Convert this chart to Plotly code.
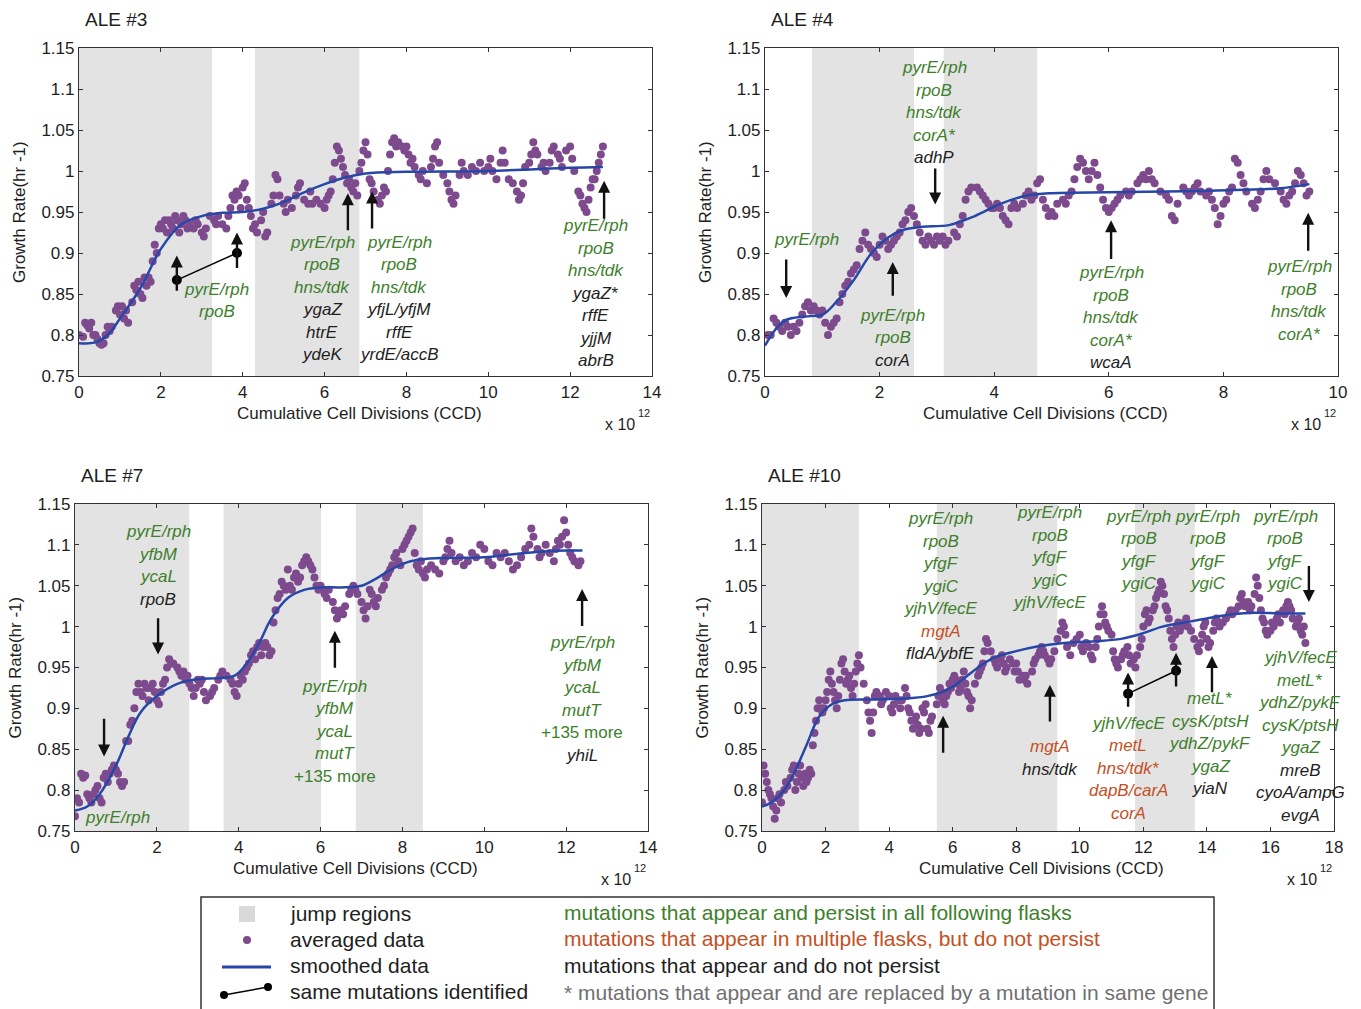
import plotly.graph_objects as go

FONT = "Liberation Sans, Arial, sans-serif"
GREEN = "#3e7f2c"
ORANGE = "#c5501f"
BLACK = "#1e1e1e"
GRAYTXT = "#707070"
PURPLE = "#7d4b8d"
BLUE = "#2747a8"
JUMP = "#e3e3e3"
COL = {"g": GREEN, "o": ORANGE, "k": BLACK}

# ---------------- tick labels ----------------
y_tickvals = [0.75, 0.8, 0.85, 0.9, 0.95, 1.0, 1.05, 1.1, 1.15]
y_ticktext = ["0.75", "0.8", "0.85", "0.9", "0.95", "1", "1.05", "1.1", "1.15"]
x_ticks_14 = [0, 2, 4, 6, 8, 10, 12, 14]
x_ticks_10 = [0, 2, 4, 6, 8, 10]
x_ticks_18 = [0, 2, 4, 6, 8, 10, 12, 14, 16, 18]

# ---------------- ALE #3 ----------------
ale3_x = [0.0, 0.1, 0.15, 0.2, 0.25, 0.3, 0.35, 0.4, 0.45, 0.5, 0.55, 0.6, 0.65, 0.7, 0.75, 0.8, 0.9, 0.95, 1.0, 1.05,
          1.1, 1.15, 1.2, 1.3, 1.35, 1.4, 1.45, 1.5, 1.55, 1.6, 1.65, 1.7, 1.75, 1.8, 1.85, 1.9, 1.95, 2.0, 2.05, 2.1,
          2.15, 2.2, 2.25, 2.3, 2.35, 2.4, 2.45, 2.5, 2.55, 2.6, 2.65, 2.7, 2.8, 2.85, 2.9, 3.0, 3.05, 3.1, 3.2, 3.3,
          3.35, 3.4, 3.5, 3.6, 3.65, 3.7, 3.75, 3.8, 3.85, 3.9, 3.95, 4.0, 4.05, 4.1, 4.15, 4.2, 4.25, 4.3, 4.35, 4.45,
          4.5, 4.55, 4.6, 4.7, 4.75, 4.8, 4.85, 4.9, 5.0, 5.05, 5.1, 5.2, 5.3, 5.35, 5.4, 5.5, 5.6, 5.65, 5.7, 5.8,
          5.9, 6.0, 6.05, 6.1, 6.15, 6.2, 6.25, 6.3, 6.35, 6.4, 6.45, 6.5, 6.55, 6.6, 6.65, 6.7, 6.75, 6.8, 6.85, 6.9,
          6.95, 7.0, 7.05, 7.1, 7.15, 7.2, 7.3, 7.35, 7.4, 7.45, 7.5, 7.55, 7.6, 7.65, 7.7, 7.75, 7.8, 7.9, 7.95, 8.0,
          8.05, 8.1, 8.15, 8.2, 8.3, 8.35, 8.4, 8.5, 8.6, 8.65, 8.7, 8.75, 8.8, 8.9, 9.0, 9.05, 9.1, 9.15, 9.2, 9.3,
          9.35, 9.4, 9.5, 9.6, 9.7, 9.8, 9.9, 10.0, 10.05, 10.1, 10.2, 10.3, 10.35, 10.4, 10.5, 10.6, 10.7, 10.75, 10.8, 10.85,
          10.9, 11.0, 11.05, 11.1, 11.15, 11.2, 11.3, 11.35, 11.4, 11.5, 11.55, 11.6, 11.7, 11.75, 11.8, 11.9, 12.0, 12.05, 12.1, 12.2,
          12.25, 12.3, 12.35, 12.4, 12.45, 12.5, 12.55, 12.6, 12.65, 12.7, 12.75, 12.8]
ale3_y = [0.800, 0.798, 0.815, 0.812, 0.808, 0.815, 0.800, 0.800, 0.795, 0.790, 0.788, 0.790, 0.800, 0.810, 0.805, 0.810, 0.830, 0.835, 0.825, 0.835,
          0.820, 0.830, 0.815, 0.840, 0.860, 0.855, 0.865, 0.850, 0.845, 0.870, 0.860, 0.870, 0.865, 0.890, 0.910, 0.900, 0.930, 0.935, 0.930, 0.940,
          0.925, 0.940, 0.935, 0.930, 0.945, 0.940, 0.925, 0.935, 0.945, 0.940, 0.930, 0.935, 0.930, 0.940, 0.935, 0.925, 0.920, 0.930, 0.945, 0.940,
          0.935, 0.945, 0.935, 0.930, 0.945, 0.955, 0.970, 0.965, 0.975, 0.970, 0.955, 0.980, 0.985, 0.965, 0.955, 0.945, 0.930, 0.935, 0.925, 0.940,
          0.950, 0.920, 0.925, 0.960, 0.970, 0.995, 0.990, 0.970, 0.960, 0.950, 0.965, 0.955, 0.970, 0.980, 0.985, 0.965, 0.960, 0.975, 0.960, 0.965,
          0.960, 0.955, 0.965, 0.970, 0.975, 0.990, 1.010, 1.030, 1.025, 1.015, 1.005, 0.995, 0.985, 0.990, 0.980, 0.975, 0.985, 0.970, 1.000, 1.010,
          1.025, 1.035, 1.020, 0.990, 0.985, 0.975, 0.965, 0.960, 0.970, 0.980, 0.975, 1.000, 1.020, 1.035, 1.040, 1.030, 1.035, 1.030, 1.025, 1.030,
          1.020, 1.010, 1.015, 1.005, 0.995, 0.990, 1.000, 0.985, 1.005, 1.015, 1.030, 1.035, 1.010, 0.995, 0.985, 0.975, 0.965, 0.960, 0.970, 0.995,
          1.010, 1.000, 0.995, 1.005, 1.000, 1.010, 1.000, 1.005, 1.015, 1.000, 0.990, 1.010, 1.025, 1.010, 0.990, 0.985, 0.975, 0.965, 0.970, 0.985,
          1.005, 1.010, 1.020, 1.035, 1.025, 1.020, 1.005, 1.010, 1.000, 1.010, 1.025, 1.030, 1.020, 1.015, 1.005, 1.025, 1.030, 1.015, 1.000, 0.975,
          0.970, 0.960, 0.955, 0.950, 0.965, 0.980, 0.990, 0.990, 1.000, 1.010, 1.020, 1.030]
ale3_smooth_x = [0, 0.4, 0.7, 1.0, 1.5, 2.0, 2.5, 3.0, 3.5, 4.0, 4.5, 5.0, 5.5, 6.0, 6.5, 7.0, 8.0, 10.0, 12.0, 12.8]
ale3_smooth_y = [0.790, 0.791, 0.800, 0.820, 0.857, 0.905, 0.935, 0.945, 0.949, 0.950, 0.954, 0.962, 0.974, 0.984, 0.992, 0.997, 0.999, 1.000, 1.004, 1.005]
ale3_jumps = [(0, 3.25), (4.3, 6.85)]
ale3_link_x = [2.39, 3.86]
ale3_link_y = [0.867, 0.900]

# ---------------- ALE #4 ----------------
ale4_x = [0.05, 0.1, 0.15, 0.2, 0.25, 0.3, 0.35, 0.4, 0.45, 0.5, 0.55, 0.6, 0.65, 0.7, 0.75, 0.8, 0.85, 0.9, 0.95, 1.0,
          1.05, 1.1, 1.15, 1.2, 1.25, 1.3, 1.35, 1.4, 1.45, 1.5, 1.55, 1.6, 1.65, 1.7, 1.75, 1.8, 1.85, 1.9, 1.95, 2.0,
          2.05, 2.1, 2.15, 2.2, 2.25, 2.3, 2.35, 2.4, 2.45, 2.5, 2.55, 2.6, 2.65, 2.7, 2.75, 2.8, 2.85, 2.9, 2.95, 3.0,
          3.05, 3.1, 3.15, 3.2, 3.3, 3.35, 3.4, 3.45, 3.5, 3.55, 3.6, 3.7, 3.75, 3.8, 3.85, 3.9, 3.95, 4.0, 4.05, 4.1,
          4.15, 4.2, 4.25, 4.3, 4.35, 4.4, 4.5, 4.55, 4.6, 4.65, 4.7, 4.75, 4.8, 4.85, 4.9, 4.95, 5.0, 5.05, 5.1, 5.2,
          5.25, 5.3, 5.35, 5.4, 5.45, 5.5, 5.55, 5.6, 5.65, 5.7, 5.75, 5.8, 5.85, 5.9, 5.95, 6.0, 6.05, 6.1, 6.15, 6.2,
          6.3, 6.35, 6.4, 6.5, 6.55, 6.6, 6.65, 6.7, 6.75, 6.8, 6.9, 7.0, 7.05, 7.1, 7.15, 7.2, 7.3, 7.35, 7.4, 7.45,
          7.5, 7.55, 7.6, 7.7, 7.75, 7.8, 7.85, 7.9, 7.95, 8.0, 8.05, 8.1, 8.15, 8.2, 8.25, 8.3, 8.35, 8.4, 8.5, 8.55,
          8.6, 8.65, 8.7, 8.75, 8.8, 8.9, 9.0, 9.05, 9.1, 9.15, 9.2, 9.25, 9.3, 9.35, 9.4, 9.45, 9.5]
ale4_y = [0.800, 0.800, 0.820, 0.815, 0.810, 0.805, 0.815, 0.810, 0.800, 0.810, 0.805, 0.815, 0.825, 0.835, 0.840, 0.830, 0.835, 0.830, 0.825, 0.830,
          0.815, 0.800, 0.810, 0.815, 0.820, 0.840, 0.850, 0.860, 0.865, 0.875, 0.880, 0.885, 0.905, 0.915, 0.925, 0.910, 0.905, 0.900, 0.895, 0.910,
          0.920, 0.915, 0.905, 0.910, 0.915, 0.920, 0.925, 0.935, 0.940, 0.950, 0.955, 0.945, 0.935, 0.925, 0.915, 0.910, 0.920, 0.915, 0.910, 0.920,
          0.915, 0.920, 0.910, 0.915, 0.925, 0.920, 0.935, 0.945, 0.965, 0.975, 0.980, 0.980, 0.975, 0.970, 0.965, 0.960, 0.955, 0.955, 0.960, 0.955,
          0.945, 0.940, 0.935, 0.955, 0.960, 0.955, 0.960, 0.970, 0.975, 0.965, 0.970, 0.985, 0.990, 0.965, 0.955, 0.945, 0.950, 0.945, 0.960, 0.965,
          0.960, 0.970, 0.975, 0.990, 1.005, 1.015, 1.010, 1.000, 0.990, 1.000, 1.010, 0.995, 0.980, 0.965, 0.955, 0.950, 0.955, 0.960, 0.965, 0.970,
          0.975, 0.970, 0.975, 0.985, 0.990, 0.995, 0.990, 1.000, 0.990, 0.985, 0.975, 0.970, 0.965, 0.945, 0.940, 0.960, 0.980, 0.975, 0.970, 0.975,
          0.980, 0.985, 0.975, 0.970, 0.975, 0.965, 0.955, 0.935, 0.945, 0.960, 0.965, 0.975, 0.980, 1.015, 1.010, 0.995, 0.985, 0.975, 0.960, 0.955,
          0.965, 0.975, 0.990, 1.000, 0.990, 0.985, 0.975, 0.965, 0.960, 0.970, 0.975, 0.985, 1.000, 0.995, 0.985, 0.970, 0.975]
ale4_smooth_x = [0, 0.33, 0.79, 1.01, 1.24, 1.54, 1.85, 2.15, 2.45, 2.75, 3.21, 3.66, 4.11, 4.57, 5.02, 6.0, 7.0, 8.35, 9.0, 9.5]
ale4_smooth_y = [0.787, 0.817, 0.823, 0.825, 0.840, 0.866, 0.899, 0.919, 0.929, 0.932, 0.934, 0.945, 0.960, 0.970, 0.973, 0.974, 0.975, 0.977, 0.979, 0.984]
ale4_jumps = [(0.82, 2.6), (3.12, 4.75)]

# ---------------- ALE #7 ----------------
ale7_x = [0.0, 0.05, 0.1, 0.15, 0.2, 0.25, 0.3, 0.35, 0.4, 0.45, 0.5, 0.55, 0.6, 0.65, 0.7, 0.75, 0.8, 0.85, 0.9, 0.95,
          1.0, 1.05, 1.1, 1.15, 1.2, 1.25, 1.3, 1.35, 1.4, 1.45, 1.5, 1.55, 1.6, 1.65, 1.7, 1.75, 1.8, 1.85, 1.9, 1.95,
          2.0, 2.05, 2.1, 2.15, 2.2, 2.25, 2.3, 2.35, 2.4, 2.5, 2.55, 2.6, 2.65, 2.7, 2.75, 2.8, 2.85, 2.9, 2.95, 3.0,
          3.05, 3.1, 3.15, 3.2, 3.3, 3.35, 3.4, 3.5, 3.55, 3.6, 3.7, 3.8, 3.85, 3.9, 3.95, 4.0, 4.05, 4.1, 4.15, 4.2,
          4.25, 4.3, 4.35, 4.4, 4.45, 4.5, 4.55, 4.6, 4.65, 4.7, 4.75, 4.8, 4.85, 4.9, 4.95, 5.0, 5.05, 5.1, 5.15, 5.2,
          5.25, 5.3, 5.35, 5.4, 5.45, 5.5, 5.55, 5.6, 5.65, 5.7, 5.75, 5.8, 5.85, 5.9, 5.95, 6.0, 6.05, 6.1, 6.15, 6.2,
          6.3, 6.35, 6.4, 6.45, 6.5, 6.55, 6.6, 6.7, 6.75, 6.8, 6.85, 6.9, 7.0, 7.05, 7.1, 7.15, 7.2, 7.25, 7.3, 7.35,
          7.4, 7.5, 7.55, 7.6, 7.65, 7.7, 7.75, 7.8, 7.85, 7.9, 7.95, 8.0, 8.05, 8.1, 8.15, 8.2, 8.25, 8.3, 8.35, 8.4,
          8.45, 8.5, 8.55, 8.6, 8.7, 8.8, 8.9, 9.0, 9.05, 9.1, 9.15, 9.2, 9.3, 9.4, 9.5, 9.6, 9.7, 9.8, 9.9, 10.0,
          10.1, 10.2, 10.3, 10.4, 10.5, 10.6, 10.7, 10.8, 10.9, 11.0, 11.1, 11.15, 11.2, 11.3, 11.35, 11.4, 11.5, 11.6, 11.7, 11.75,
          11.8, 11.85, 11.9, 11.95, 12.0, 12.05, 12.1, 12.15, 12.2, 12.3, 12.35]
ale7_y = [0.768, 0.790, 0.785, 0.820, 0.815, 0.818, 0.795, 0.790, 0.785, 0.795, 0.800, 0.805, 0.790, 0.785, 0.815, 0.820, 0.810, 0.820, 0.825, 0.830,
          0.825, 0.820, 0.810, 0.805, 0.810, 0.860, 0.860, 0.880, 0.885, 0.900, 0.920, 0.930, 0.920, 0.915, 0.930, 0.925, 0.910, 0.925, 0.930, 0.920,
          0.910, 0.905, 0.920, 0.930, 0.935, 0.950, 0.960, 0.955, 0.955, 0.950, 0.945, 0.940, 0.945, 0.935, 0.940, 0.930, 0.925, 0.915, 0.925, 0.935,
          0.930, 0.935, 0.920, 0.910, 0.915, 0.920, 0.925, 0.935, 0.940, 0.945, 0.940, 0.935, 0.930, 0.920, 0.915, 0.930, 0.940, 0.935, 0.945, 0.950,
          0.955, 0.965, 0.970, 0.960, 0.975, 0.980, 0.965, 0.975, 0.980, 0.975, 0.965, 0.970, 1.005, 1.020, 1.035, 1.040, 1.055, 1.050, 1.045, 1.070,
          1.050, 1.045, 1.060, 1.065, 1.055, 1.060, 1.075, 1.080, 1.085, 1.080, 1.075, 1.070, 1.060, 1.050, 1.045, 1.050, 1.045, 1.040, 1.035, 1.045,
          1.030, 1.020, 1.010, 1.015, 1.020, 1.015, 1.025, 1.040, 1.045, 1.050, 1.045, 1.040, 1.030, 1.020, 1.010, 1.025, 1.045, 1.040, 1.030, 1.025,
          1.035, 1.045, 1.050, 1.060, 1.065, 1.070, 1.075, 1.085, 1.090, 1.080, 1.075, 1.095, 1.100, 1.105, 1.110, 1.115, 1.120, 1.090, 1.075, 1.070,
          1.080, 1.065, 1.060, 1.070, 1.075, 1.070, 1.065, 1.080, 1.085, 1.095, 1.105, 1.090, 1.080, 1.085, 1.075, 1.080, 1.090, 1.085, 1.100, 1.095,
          1.080, 1.075, 1.090, 1.085, 1.090, 1.080, 1.070, 1.075, 1.085, 1.095, 1.100, 1.120, 1.110, 1.095, 1.085, 1.090, 1.100, 1.090, 1.080, 1.095,
          1.105, 1.100, 1.110, 1.130, 1.115, 1.100, 1.090, 1.085, 1.080, 1.075, 1.080]
ale7_smooth_x = [0, 0.3, 0.6, 1.0, 1.3, 1.6, 2.0, 2.5, 3.0, 3.5, 3.9, 4.2, 4.5, 4.8, 5.2, 5.6, 6.0, 6.5, 7.0, 7.4, 7.8, 8.2, 8.6, 9.0, 10.0, 11.0, 12.0, 12.4]
ale7_smooth_y = [0.775, 0.780, 0.795, 0.830, 0.865, 0.895, 0.915, 0.930, 0.936, 0.937, 0.940, 0.955, 0.980, 1.010, 1.035, 1.045, 1.048, 1.048, 1.050, 1.060, 1.072, 1.080, 1.083, 1.084, 1.085, 1.090, 1.093, 1.093]
ale7_jumps = [(0, 2.79), (3.63, 6.01), (6.86, 8.5)]

# ---------------- ALE #10 ----------------
ale10_x = [0.0, 0.05, 0.1, 0.15, 0.2, 0.25, 0.3, 0.35, 0.4, 0.45, 0.5, 0.55, 0.6, 0.7, 0.75, 0.8, 0.9, 0.95, 1.0, 1.05,
           1.1, 1.15, 1.2, 1.25, 1.3, 1.35, 1.4, 1.45, 1.5, 1.55, 1.6, 1.65, 1.7, 1.75, 1.8, 1.85, 1.9, 1.95, 2.0, 2.05,
           2.1, 2.15, 2.2, 2.25, 2.3, 2.35, 2.4, 2.45, 2.5, 2.55, 2.6, 2.65, 2.7, 2.75, 2.8, 2.85, 2.9, 2.95, 3.0, 3.05,
           3.1, 3.2, 3.3, 3.35, 3.4, 3.45, 3.5, 3.55, 3.6, 3.7, 3.75, 3.8, 3.9, 4.0, 4.05, 4.1, 4.15, 4.2, 4.3, 4.35,
           4.4, 4.5, 4.55, 4.6, 4.65, 4.7, 4.75, 4.8, 4.85, 4.9, 4.95, 5.0, 5.05, 5.1, 5.15, 5.2, 5.25, 5.3, 5.35, 5.5,
           5.55, 5.6, 5.65, 5.7, 5.75, 5.8, 5.85, 5.9, 5.95, 6.0, 6.05, 6.1, 6.15, 6.2, 6.25, 6.3, 6.35, 6.4, 6.45, 6.5,
           6.55, 6.6, 6.7, 6.8, 6.85, 6.9, 6.95, 7.0, 7.05, 7.1, 7.2, 7.3, 7.35, 7.4, 7.5, 7.55, 7.6, 7.65, 7.7, 7.8,
           7.9, 7.95, 8.0, 8.05, 8.1, 8.2, 8.25, 8.3, 8.35, 8.5, 8.55, 8.6, 8.7, 8.75, 8.8, 8.85, 8.9, 9.0, 9.05, 9.1,
           9.2, 9.3, 9.4, 9.45, 9.5, 9.55, 9.6, 9.7, 9.8, 9.9, 10.0, 10.05, 10.1, 10.2, 10.3, 10.35, 10.4, 10.5, 10.55, 10.6,
           10.65, 10.7, 10.75, 10.8, 10.85, 10.9, 11.0, 11.05, 11.1, 11.15, 11.2, 11.3, 11.35, 11.4, 11.5, 11.55, 11.6, 11.7, 11.75, 11.8,
           11.9, 11.95, 12.0, 12.05, 12.1, 12.15, 12.2, 12.3, 12.35, 12.4, 12.45, 12.5, 12.55, 12.6, 12.65, 12.7, 12.75, 12.8, 12.85, 12.9,
           12.95, 13.0, 13.05, 13.1, 13.15, 13.2, 13.3, 13.35, 13.4, 13.5, 13.6, 13.7, 13.75, 13.8, 13.85, 13.9, 13.95, 14.0, 14.05, 14.1,
           14.2, 14.25, 14.3, 14.4, 14.5, 14.6, 14.7, 14.75, 14.8, 14.9, 15.0, 15.05, 15.1, 15.15, 15.2, 15.3, 15.35, 15.4, 15.5, 15.55,
           15.6, 15.65, 15.7, 15.75, 15.8, 15.85, 15.9, 16.0, 16.05, 16.1, 16.2, 16.25, 16.3, 16.4, 16.45, 16.5, 16.55, 16.6, 16.65, 16.7,
           16.8, 16.85, 16.9, 16.95, 17.0, 17.05, 17.1]
ale10_y = [0.785, 0.830, 0.820, 0.810, 0.800, 0.795, 0.790, 0.780, 0.765, 0.775, 0.790, 0.795, 0.785, 0.800, 0.810, 0.805, 0.815, 0.825, 0.830, 0.800,
           0.810, 0.820, 0.830, 0.815, 0.805, 0.820, 0.810, 0.815, 0.825, 0.820, 0.855, 0.870, 0.885, 0.900, 0.910, 0.900, 0.895, 0.900, 0.910, 0.920,
           0.935, 0.945, 0.930, 0.920, 0.910, 0.900, 0.915, 0.935, 0.955, 0.960, 0.945, 0.930, 0.935, 0.940, 0.925, 0.915, 0.930, 0.945, 0.955, 0.965,
           0.950, 0.930, 0.910, 0.895, 0.885, 0.870, 0.895, 0.915, 0.920, 0.915, 0.905, 0.910, 0.920, 0.915, 0.900, 0.895, 0.905, 0.915, 0.910, 0.900,
           0.910, 0.925, 0.915, 0.900, 0.895, 0.885, 0.875, 0.885, 0.890, 0.880, 0.870, 0.875, 0.900, 0.895, 0.905, 0.875, 0.870, 0.885, 0.890, 0.905,
           0.915, 0.925, 0.920, 0.910, 0.905, 0.915, 0.920, 0.930, 0.925, 0.935, 0.940, 0.935, 0.930, 0.920, 0.925, 0.935, 0.945, 0.930, 0.920, 0.915,
           0.900, 0.910, 0.930, 0.940, 0.945, 0.950, 0.955, 0.970, 0.985, 0.980, 0.970, 0.960, 0.955, 0.950, 0.960, 0.965, 0.955, 0.945, 0.950, 0.960,
           0.955, 0.945, 0.955, 0.945, 0.935, 0.940, 0.935, 0.940, 0.930, 0.945, 0.955, 0.960, 0.965, 0.970, 0.975, 0.970, 0.965, 0.960, 0.955, 0.960,
           0.970, 0.985, 0.995, 1.005, 1.000, 0.990, 0.975, 0.965, 0.980, 0.985, 0.990, 0.975, 0.970, 0.980, 0.975, 0.965, 0.960, 0.975, 0.985, 1.000,
           1.015, 1.025, 1.015, 1.005, 1.000, 0.995, 0.990, 0.970, 0.960, 0.955, 0.950, 0.960, 0.965, 0.970, 0.975, 0.965, 0.955, 0.960, 0.950, 0.965,
           0.975, 0.985, 1.000, 1.015, 1.020, 1.005, 1.010, 1.020, 1.025, 1.035, 1.040, 1.045, 1.055, 1.050, 1.040, 1.025, 1.020, 1.010, 0.995, 0.985,
           0.975, 0.990, 1.000, 1.005, 0.995, 1.000, 1.005, 1.010, 1.000, 0.995, 0.985, 0.975, 0.970, 0.980, 0.990, 1.000, 1.005, 0.985, 0.975, 0.980,
           0.995, 1.005, 1.010, 1.000, 1.005, 1.010, 1.015, 1.020, 1.015, 1.020, 1.025, 1.035, 1.040, 1.030, 1.025, 1.030, 1.020, 1.025, 1.040, 1.060,
           1.050, 1.035, 1.020, 1.010, 1.005, 0.995, 0.990, 0.995, 1.005, 1.000, 1.010, 1.015, 1.005, 1.020, 1.015, 1.025, 1.030, 1.025, 1.020, 1.010,
           1.000, 1.005, 1.010, 0.995, 0.990, 1.000, 0.980]
ale10_smooth_x = [0, 0.3, 0.7, 1.0, 1.4, 1.8, 2.2, 2.6, 3.5, 4.5, 5.2, 5.8, 6.3, 6.8, 7.3, 8.0, 8.7, 9.5, 10.5, 11.3, 12.0, 12.6, 13.3, 14.0, 14.8, 15.5, 16.5, 17.1]
ale10_smooth_y = [0.780, 0.785, 0.800, 0.820, 0.855, 0.890, 0.905, 0.910, 0.911, 0.912, 0.915, 0.922, 0.935, 0.950, 0.962, 0.970, 0.976, 0.980, 0.982, 0.985, 0.992, 1.000, 1.005, 1.010, 1.015, 1.017, 1.016, 1.016]
ale10_jumps = [(0, 3.05), (5.5, 9.29), (11.74, 13.62)]
ale10_link_x = [11.52, 13.03]
ale10_link_y = [0.918, 0.946]

# ---------------- mutation labels: (x, y of first line, [(text, colour)]) ----------------
ale3_labels = [
    (3.37, 0.856, [("pyrE/rph", "g"), ("rpoB", "g")]),
    (5.94, 0.913, [("pyrE/rph", "g"), ("rpoB", "g"), ("hns/tdk", "g"), ("ygaZ", "k"), ("htrE", "k"), ("ydeK", "k")]),
    (7.82, 0.913, [("pyrE/rph", "g"), ("rpoB", "g"), ("hns/tdk", "g"), ("yfjL/yfjM", "k"), ("rffE", "k"), ("yrdE/accB", "k")]),
    (12.63, 0.933, [("pyrE/rph", "g"), ("rpoB", "g"), ("hns/tdk", "g"), ("ygaZ*", "k"), ("rffE", "k"), ("yjjM", "k"), ("abrB", "k")]),
]
ale3_arrows = [(2.39, 0.852, 0.897), (3.86, 0.880, 0.925), (6.57, 0.926, 0.973), (7.16, 0.928, 0.975), (12.83, 0.940, 0.988)]

ale4_labels = [
    (0.72, 0.917, [("pyrE/rph", "g")]),
    (2.23, 0.824, [("pyrE/rph", "g"), ("rpoB", "g"), ("corA", "k")]),
    (2.95, 1.126, [("pyrE/rph", "g"), ("rpoB", "g"), ("hns/tdk", "g"), ("corA*", "g"), ("adhP", "k")]),
    (6.04, 0.876, [("pyrE/rph", "g"), ("rpoB", "g"), ("hns/tdk", "g"), ("corA*", "g"), ("wcaA", "k")]),
    (9.32, 0.883, [("pyrE/rph", "g"), ("rpoB", "g"), ("hns/tdk", "g"), ("corA*", "g")]),
]
ale4_arrows = [(0.37, 0.894, 0.845), (2.23, 0.846, 0.889), (2.97, 1.005, 0.959), (6.04, 0.891, 0.940), (9.48, 0.901, 0.949)]

ale7_labels = [
    (1.05, 0.767, [("pyrE/rph", "g")]),
    (2.03, 1.116, [("pyrE/rph", "g"), ("yfbM", "g"), ("ycaL", "g"), ("rpoB", "k")]),
    (6.35, 0.927, [("pyrE/rph", "g"), ("yfbM", "g"), ("ycaL", "g"), ("mutT", "g"), ("+135 more", "g")]),
    (12.39, 0.980, [("pyrE/rph", "g"), ("yfbM", "g"), ("ycaL", "g"), ("mutT", "g"), ("+135 more", "g"), ("yhiL", "k")]),
]
ale7_arrows = [(0.71, 0.889, 0.841), (2.03, 1.012, 0.966), (6.35, 0.948, 0.995), (12.39, 0.999, 1.046)]

ale10_labels = [
    (5.63, 1.132, [("pyrE/rph", "g"), ("rpoB", "g"), ("yfgF", "g"), ("ygiC", "g"), ("yjhV/fecE", "g"), ("mgtA", "o"), ("fldA/ybfE", "k")]),
    (9.06, 1.139, [("pyrE/rph", "g"), ("rpoB", "g"), ("yfgF", "g"), ("ygiC", "g"), ("yjhV/fecE", "g")]),
    (9.06, 0.853, [("mgtA", "o"), ("hns/tdk", "k")]),
    (11.86, 1.135, [("pyrE/rph", "g"), ("rpoB", "g"), ("yfgF", "g"), ("ygiC", "g")]),
    (14.03, 1.135, [("pyrE/rph", "g"), ("rpoB", "g"), ("yfgF", "g"), ("ygiC", "g")]),
    (16.46, 1.135, [("pyrE/rph", "g"), ("rpoB", "g"), ("yfgF", "g"), ("ygiC", "g")]),
    (11.52, 0.882, [("yjhV/fecE", "g"), ("metL", "o"), ("hns/tdk*", "o"), ("dapB/carA", "o"), ("corA", "o")]),
    (14.10, 0.912, [("metL*", "g"), ("cysK/ptsH", "g"), ("ydhZ/pykF", "g"), ("ygaZ", "g"), ("yiaN", "k")]),
    (16.93, 0.962, [("yjhV/fecE", "g"), ("metL*", "g"), ("ydhZ/pykF", "g"), ("cysK/ptsH", "g"), ("ygaZ", "g"),
                    ("mreB", "k"), ("cyoA/ampG", "k"), ("evgA", "k")]),
]
ale10_arrows = [(5.70, 0.844, 0.891), (9.06, 0.882, 0.929), (11.52, 0.900, 0.944), (13.03, 0.925, 0.968),
                (14.16, 0.918, 0.964), (17.21, 1.076, 1.030)]

legend_left = ["jump regions", "averaged data", "smoothed data", "same mutations identified"]
legend_right = [("mutations that appear and persist in all following flasks", GREEN),
                ("mutations that appear in multiple flasks, but do not persist", ORANGE),
                ("mutations that appear and do not persist", BLACK),
                ("* mutations that appear and are replaced by a mutation in same gene", GRAYTXT)]

# ---------------- build figure ----------------
# the page body margin is removed by a post script, so the figure fills the 1361x1009 window
W, H = 1361, 1009


def px(xp):
    return xp / W


def py(yp):
    return 1 - yp / H


panels = [
    dict(name="ALE #3", x=ale3_x, y=ale3_y, sx=ale3_smooth_x, sy=ale3_smooth_y, jumps=ale3_jumps,
         labels=ale3_labels, arrows=ale3_arrows, link=(ale3_link_x, ale3_link_y), xmax=14, xt=x_ticks_14,
         dom=(79, 652, 48, 376)),
    dict(name="ALE #4", x=ale4_x, y=ale4_y, sx=ale4_smooth_x, sy=ale4_smooth_y, jumps=ale4_jumps,
         labels=ale4_labels, arrows=ale4_arrows, link=None, xmax=10, xt=x_ticks_10,
         dom=(765, 1338, 48, 376)),
    dict(name="ALE #7", x=ale7_x, y=ale7_y, sx=ale7_smooth_x, sy=ale7_smooth_y, jumps=ale7_jumps,
         labels=ale7_labels, arrows=ale7_arrows, link=None, xmax=14, xt=x_ticks_14,
         dom=(75, 648, 504, 831)),
    dict(name="ALE #10", x=ale10_x, y=ale10_y, sx=ale10_smooth_x, sy=ale10_smooth_y, jumps=ale10_jumps,
         labels=ale10_labels, arrows=ale10_arrows, link=(ale10_link_x, ale10_link_y), xmax=18, xt=x_ticks_18,
         dom=(762, 1334, 504, 831)),
]

fig = go.Figure()
layout = dict(width=W, height=H, margin=dict(l=0, r=0, t=0, b=0, autoexpand=False), paper_bgcolor="white",
              plot_bgcolor="white", showlegend=False, font=dict(family=FONT, color=BLACK))
shapes = []
annotations = []
LS = 22.5

for i, p in enumerate(panels, start=1):
    sfx = "" if i == 1 else str(i)
    xa, ya = "x" + sfx, "y" + sfx
    x0p, x1p, y0p, y1p = p["dom"]
    axis_common = dict(showline=True, linecolor="#333333", linewidth=1.2, mirror="ticks", ticks="inside",
                       ticklen=4, tickcolor="#333333", showgrid=False, zeroline=False,
                       tickfont=dict(family=FONT, size=17, color=BLACK))
    layout["xaxis" + sfx] = dict(domain=[px(x0p), px(x1p)], range=[0, p["xmax"]], anchor=ya,
                                 tickvals=p["xt"], ticktext=[str(t) for t in p["xt"]], **axis_common)
    layout["yaxis" + sfx] = dict(domain=[py(y1p), py(y0p)], range=[0.75, 1.15], anchor=xa,
                                 tickvals=y_tickvals, ticktext=y_ticktext, **axis_common)

    # jump regions
    for a, b in p["jumps"]:
        shapes.append(dict(type="rect", xref=xa, yref=ya + " domain", x0=a, x1=b, y0=0, y1=1,
                           fillcolor=JUMP, line=dict(width=0), layer="below"))

    fig.add_trace(go.Scatter(x=p["x"], y=p["y"], mode="markers", xaxis=xa, yaxis=ya,
                             marker=dict(color=PURPLE, size=8, line=dict(width=0))))
    fig.add_trace(go.Scatter(x=p["sx"], y=p["sy"], mode="lines", xaxis=xa, yaxis=ya,
                             line=dict(color=BLUE, width=2.5, shape="spline", smoothing=1.0)))
    if p["link"] is not None:
        fig.add_trace(go.Scatter(x=p["link"][0], y=p["link"][1], mode="lines+markers", xaxis=xa, yaxis=ya,
                                 line=dict(color="black", width=1.5), marker=dict(color="black", size=10)))

    for ax_, yt, yh in p["arrows"]:
        annotations.append(dict(x=ax_, y=yh, ax=ax_, ay=yt, xref=xa, yref=ya, axref=xa, ayref=ya,
                                text="", showarrow=True, arrowhead=2, arrowsize=1, arrowwidth=2.4,
                                arrowcolor="#111111"))

    for cx, cy, lines in p["labels"]:
        for j, (t, c) in enumerate(lines):
            txt = t if t.startswith("+") else "<i>" + t + "</i>"
            annotations.append(dict(x=cx, y=cy, xref=xa, yref=ya, text=txt, showarrow=False,
                                    xanchor="center", yanchor="middle", yshift=-j * LS,
                                    font=dict(family=FONT, size=17, color=COL[c])))

    wpx = x1p - x0p
    hpx = y1p - y0p
    # panel title
    annotations.append(dict(x=4 / wpx, y=1 + 29 / hpx, xref=xa + " domain", yref=ya + " domain",
                            text=p["name"], showarrow=False, xanchor="left", yanchor="middle",
                            font=dict(family=FONT, size=19, color=BLACK)))
    # axis titles
    annotations.append(dict(x=0.489, y=-37 / hpx, xref=xa + " domain", yref=ya + " domain",
                            text="Cumulative Cell Divisions (CCD)", showarrow=False, xanchor="center",
                            yanchor="middle", font=dict(family=FONT, size=17, color=BLACK)))
    annotations.append(dict(x=-60 / wpx, y=0.5, xref=xa + " domain", yref=ya + " domain",
                            text="Growth Rate(hr -1)", showarrow=False, textangle=-90, xanchor="center",
                            yanchor="middle", font=dict(family=FONT, size=17, color=BLACK)))
    # exponent
    annotations.append(dict(x=1 - 15 / wpx, y=-48 / hpx, xref=xa + " domain", yref=ya + " domain",
                            text="x 10", showarrow=False, xanchor="right", yanchor="middle",
                            font=dict(family=FONT, size=16, color=BLACK)))
    annotations.append(dict(x=1.0, y=-37 / hpx, xref=xa + " domain", yref=ya + " domain",
                            text="12", showarrow=False, xanchor="right", yanchor="middle",
                            font=dict(family=FONT, size=11, color=BLACK)))

# ---------------- legend box ----------------
shapes.append(dict(type="rect", xref="paper", yref="paper", x0=px(201), x1=px(1214), y0=py(1030), y1=py(897),
                   line=dict(color="#333333", width=1.5), fillcolor="rgba(0,0,0,0)"))
shapes.append(dict(type="rect", xref="paper", yref="paper", x0=px(239), x1=px(255), y0=py(922), y1=py(906),
                   fillcolor="#d9d9d9", line=dict(width=0)))
shapes.append(dict(type="circle", xref="paper", yref="paper", x0=px(243), x1=px(251), y0=py(944), y1=py(936),
                   fillcolor=PURPLE, line=dict(width=0)))
shapes.append(dict(type="line", xref="paper", yref="paper", x0=px(222), x1=px(271), y0=py(967), y1=py(967),
                   line=dict(color=BLUE, width=3)))
shapes.append(dict(type="line", xref="paper", yref="paper", x0=px(224), x1=px(268), y0=py(995), y1=py(987),
                   line=dict(color="black", width=1.5)))
for cxp, cyp in [(224, 995), (268, 987)]:
    shapes.append(dict(type="circle", xref="paper", yref="paper", x0=px(cxp - 4), x1=px(cxp + 4),
                       y0=py(cyp + 4), y1=py(cyp - 4), fillcolor="black", line=dict(width=0)))

for k, t in enumerate(legend_left):
    annotations.append(dict(x=px(288), y=py(913 + k * 26.3), xref="paper", yref="paper", text=t,
                            showarrow=False, xanchor="left", yanchor="middle",
                            font=dict(family=FONT, size=21, color=BLACK)))
for k, (t, c) in enumerate(legend_right):
    annotations.append(dict(x=px(562), y=py(912 + k * 26.8), xref="paper", yref="paper", text=t,
                            showarrow=False, xanchor="left", yanchor="middle",
                            font=dict(family=FONT, size=21, color=c)))

layout["shapes"] = shapes
layout["annotations"] = annotations
fig.update_layout(**layout)
fig.write_html("out.html", config={"displayModeBar": False},
               post_script="document.body.style.margin='0';document.body.style.overflow='hidden';")
